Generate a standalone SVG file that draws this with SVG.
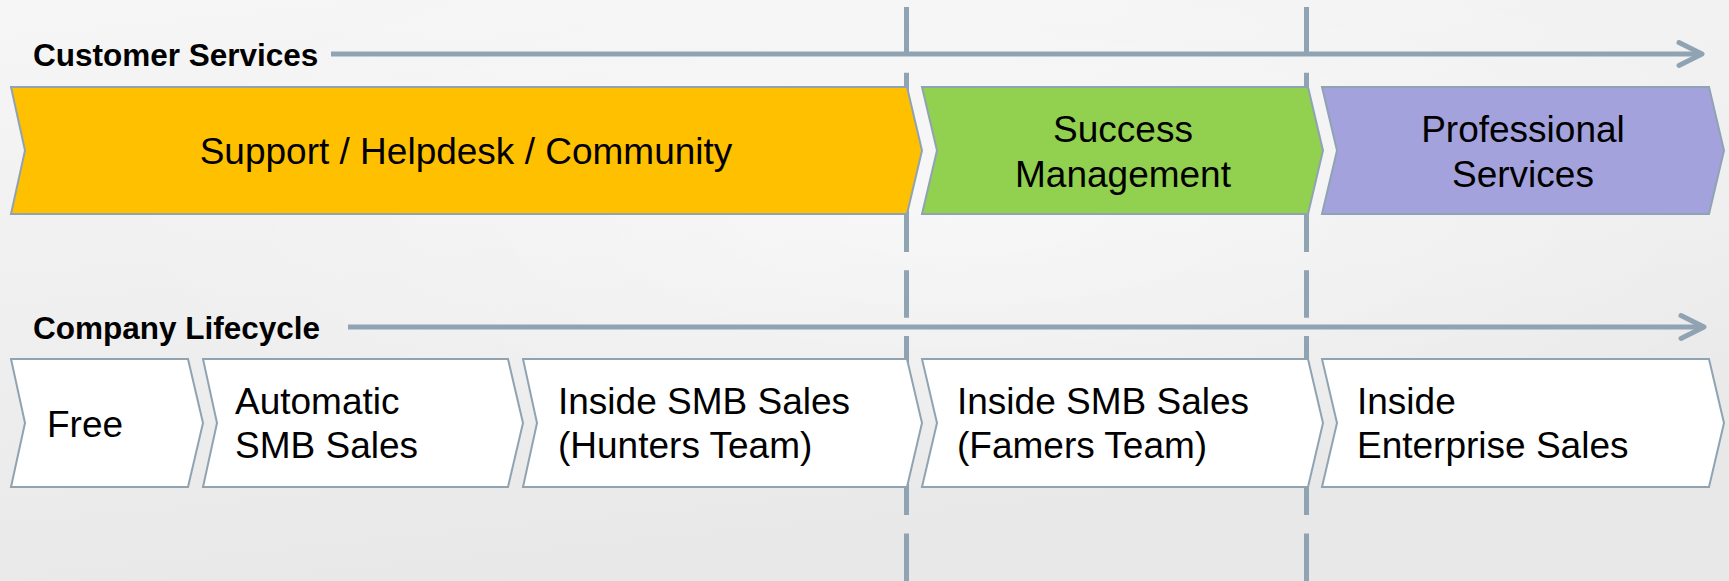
<svg xmlns="http://www.w3.org/2000/svg" width="1729" height="581" viewBox="0 0 1729 581">
  <defs>
    <linearGradient id="bg" x1="0" y1="0" x2="0.3" y2="1">
      <stop offset="0" stop-color="#f6f6f6"/>
      <stop offset="0.6" stop-color="#efeeee"/>
      <stop offset="1" stop-color="#e9e8e8"/>
    </linearGradient>
    <radialGradient id="glow" cx="0.55" cy="0.35" r="0.5">
      <stop offset="0" stop-color="#ffffff" stop-opacity="0.5"/>
      <stop offset="1" stop-color="#ffffff" stop-opacity="0"/>
    </radialGradient>
  </defs>
  <style>
    .axis { stroke: #8fa3b3; stroke-width: 5; fill: none; }
    .head { stroke: #8fa3b3; stroke-width: 5; fill: none; stroke-linecap: round; stroke-linejoin: round; }
    .divider { stroke: #8fa3b3; stroke-width: 5; fill: none; stroke-dasharray: 47.5 18.3; }
    .chev { stroke: #8fa3b3; stroke-width: 2; }
    .yellow { fill: #ffc000; }
    .green { fill: #92d050; }
    .purple { fill: #a3a2dc; }
    .white { fill: #ffffff; }
    .title { font-family: "Liberation Sans", Arial, sans-serif; font-weight: bold; font-size: 31.5px; fill: #000000; }
    .label { font-family: "Liberation Sans", Arial, sans-serif; font-size: 37px; fill: #000000; }
    .mid { text-anchor: middle; }
  </style>

  <rect x="0" y="0" width="1729" height="581" fill="url(#bg)"/>
  <rect x="0" y="0" width="1729" height="581" fill="url(#glow)"/>

  <g id="connectors">
    <line class="divider" x1="906.5" y1="7" x2="906.5" y2="581"/>
    <line class="divider" x1="1306.5" y1="7" x2="1306.5" y2="581"/>
    <line class="axis" x1="331" y1="54" x2="1701" y2="54"/>
    <polyline class="head" points="1679,42.5 1702,54 1679,65.5"/>
    <line class="axis" x1="348" y1="327" x2="1702" y2="327"/>
    <polyline class="head" points="1681,315.5 1704,327 1681,338.5"/>
  </g>

  <g id="label-customer-services">
    <text class="title" x="33" y="66">Customer Services</text>
  </g>
  <g id="label-company-lifecycle">
    <text class="title" x="33" y="338.5">Company Lifecycle</text>
  </g>

  <g id="node-support">
    <polygon class="chev yellow" points="11,87 907,87 922,150.5 907,214 11,214 25,150.5"/>
    <text class="label mid" x="466" y="164">Support / Helpdesk / Community</text>
  </g>
  <g id="node-success">
    <polygon class="chev green" points="922,87 1308,87 1323,150.5 1308,214 922,214 937,150.5"/>
    <text class="label mid" x="1123" y="141.5">Success</text>
    <text class="label mid" x="1123" y="186.5">Management</text>
  </g>
  <g id="node-professional">
    <polygon class="chev purple" points="1322,87 1709,87 1724,150.5 1709,214 1322,214 1337,150.5"/>
    <text class="label mid" x="1523" y="141.5">Professional</text>
    <text class="label mid" x="1523" y="186.5">Services</text>
  </g>

  <g id="node-free">
    <polygon class="chev white" points="11,359 188,359 203,423 188,487 11,487 25,423"/>
    <text class="label" x="47" y="436.5">Free</text>
  </g>
  <g id="node-automatic">
    <polygon class="chev white" points="203,359 508,359 523,423 508,487 203,487 217,423"/>
    <text class="label" x="235" y="414">Automatic</text>
    <text class="label" x="235" y="458">SMB Sales</text>
  </g>
  <g id="node-hunters">
    <polygon class="chev white" points="523,359 907,359 922,423 907,487 523,487 537,423"/>
    <text class="label" x="558" y="414">Inside SMB Sales</text>
    <text class="label" x="558" y="458">(Hunters Team)</text>
  </g>
  <g id="node-famers">
    <polygon class="chev white" points="922,359 1308,359 1323,423 1308,487 922,487 937,423"/>
    <text class="label" x="957" y="414">Inside SMB Sales</text>
    <text class="label" x="957" y="458">(Famers Team)</text>
  </g>
  <g id="node-enterprise">
    <polygon class="chev white" points="1322,359 1709,359 1724,423 1709,487 1322,487 1337,423"/>
    <text class="label" x="1357" y="414">Inside</text>
    <text class="label" x="1357" y="458">Enterprise Sales</text>
  </g>
</svg>
